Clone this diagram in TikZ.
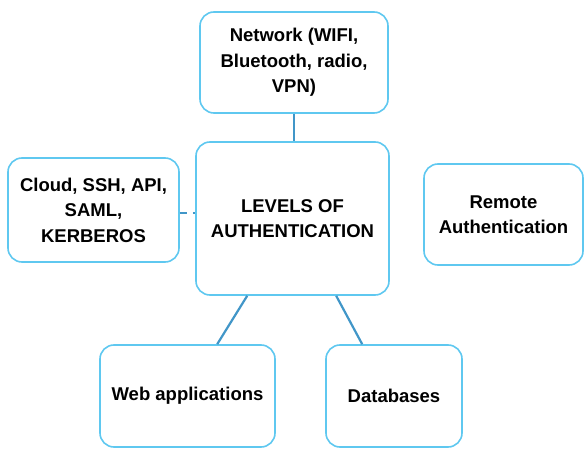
\documentclass[tikz,border=0pt]{standalone}
\usepackage{fontspec}
\setmainfont{Liberation Sans}
\definecolor{boxblue}{RGB}{95,200,240}
\definecolor{linkblue}{RGB}{65,150,200}
\begin{document}
\begin{tikzpicture}[x=1pt,y=-1pt,
  box/.style={draw=boxblue, line width=1.6pt, rounded corners=14pt, fill=white,
    align=center, inner sep=0pt,
    font=\fontsize{18.5}{25.5}\selectfont\bfseries},
  link/.style={draw=linkblue, line width=2.2pt}]
\useasboundingbox (0,0) rectangle (584,449);
\node[box, minimum width=188pt, minimum height=101pt] (net) at (294,62.5) {Network (WIFI,\\Bluetooth, radio,\\VPN)};
\node[box, minimum width=193pt, minimum height=153pt] (center) at (292.5,218.5) {LEVELS OF\\AUTHENTICATION};
\node[box, minimum width=171pt, minimum height=104pt] (left) at (93.5,210) {Cloud, SSH, API,\\SAML,\\KERBEROS};
\node[box, minimum width=159pt, minimum height=101pt] (right) at (503.5,214.5) {Remote\\Authentication};
\node[box, minimum width=175pt, minimum height=102pt] (web) at (187.5,396) {Web applications};
\node[box, minimum width=136pt, minimum height=102pt] (db) at (394,396) {Databases};
\draw[link] (net.south) -- (net.south |- center.north);
\draw[link, dash pattern=on 7pt off 6pt] (left.east |- 0,213) -- (center.west |- 0,213);
\draw[link] ([xshift=52pt]center.south west) -- ([xshift=118pt]web.north west);
\draw[link] ([xshift=141pt]center.south west) -- ([xshift=37pt]db.north west);
\end{tikzpicture}
\end{document}
